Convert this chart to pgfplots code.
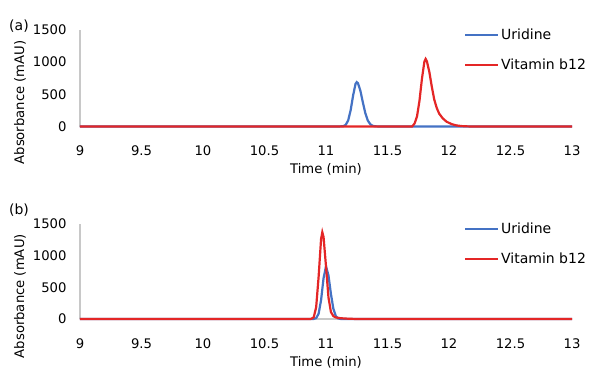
\documentclass[border=0pt]{standalone}
\usepackage{fontspec}
\setmainfont{DejaVu Sans}
\usepackage{pgfplots}
\pgfplotsset{compat=1.18}
\definecolor{ublue}{RGB}{68,114,196}
\definecolor{vred}{RGB}{228,38,38}
\definecolor{axgray}{RGB}{200,200,200}
\newcommand{\cf}{\fontsize{13.2}{16}\selectfont}
\newcommand{\lf}{\fontsize{14}{16}\selectfont}
\pgfplotsset{
  chrom/.style={
    scale only axis,
    width=492pt,
    xmin=9, xmax=13,
    ymin=0, ymax=1500,
    xtick={9,9.5,...,13},
    xticklabels={9,9.5,10,10.5,11,11.5,12,12.5,13},
    ytick={0,500,1000,1500},
    yticklabels={0,500,1000,1500},
    axis x line*=bottom,
    axis y line*=left,
    axis line style={axgray, line width=1.3pt},
    x axis line style={-},
    y axis line style={-},
    major tick length=0pt,
    tick style={draw=none},
    font=\cf,
    tick label style={font=\cf},
    label style={font=\cf},
    /pgf/number format/assume math mode=true,
    /pgf/number format/1000 sep={},
    xticklabel style={yshift=-16pt},
    yticklabel style={xshift=-10pt},
    xlabel={Time (min)},
    ylabel={Absorbance (mAU)},
    xlabel style={at={(rel axis cs:0.5,0)}, anchor=center, yshift=-43pt},
    clip=false,
    legend style={draw=none, fill=none, anchor=north west, inner sep=0pt,
      row sep=14pt, font=\lf,
      nodes={inner sep=2pt}},
    legend cell align=left,
    legend image code/.code={\draw[#1] (0pt,0pt) -- (33pt,0pt);},
  }
}
\begin{document}
\begin{tikzpicture}
\path[use as bounding box] (0,0) rectangle (600pt,384pt);
\node[font=\lf] at (19pt,358pt) {(a)};
\node[font=\lf] at (19pt,174pt) {(b)};
\begin{axis}[chrom, height=96.5pt, at={(80pt,257.5pt)}, anchor=south west,
  ylabel style={at={(rel axis cs:0,0.25)}, anchor=center, yshift=60pt},
  legend style={at={(rel axis cs:0.78,1.035)}}]
\addplot[ublue, line width=2.2pt] coordinates {
(9,0) (11.10,0) (11.14,5) (11.16,25) (11.18,93) (11.20,249) (11.22,478) (11.24,662) (11.25,690)
(11.26,673) (11.28,553) (11.30,372) (11.32,205) (11.34,93) (11.36,35) (11.38,11) (11.40,3) (11.44,0) (13,0)};
\addlegendentry{Uridine}
\addplot[vred, line width=2.2pt] coordinates {
(9,0) (11.70,0) (11.72,46) (11.74,158) (11.76,400) (11.78,742) (11.80,1010) (11.81,1050)
(11.82,1015) (11.84,850) (11.86,620) (11.88,420) (11.90,290) (11.92,200) (11.95,125) (11.98,75)
(12.02,38) (12.06,17) (12.10,7) (12.15,2) (12.2,0) (13,0)};
\addlegendentry{Vitamin b12}
\end{axis}
\begin{axis}[chrom, height=95pt, at={(80pt,65pt)}, anchor=south west,
  ylabel style={at={(rel axis cs:0,0.24)}, anchor=center, yshift=60pt},
  legend style={at={(rel axis cs:0.78,1.035)}}]
\addplot[ublue, line width=2.2pt] coordinates {
(9,0) (10.88,0) (10.90,1) (10.92,14) (10.94,83) (10.96,299) (10.98,643) (11.00,830)
(11.02,690) (11.04,398) (11.06,160) (11.08,44) (11.10,8) (11.12,1) (11.15,0) (13,0)};
\addlegendentry{Uridine}
\addplot[vred, line width=2.2pt] coordinates {
(9,0) (10.86,0) (10.88,2) (10.90,27) (10.92,185) (10.94,667) (10.96,1264) (10.97,1370)
(10.98,1296) (11.00,831) (11.02,342) (11.04,110) (11.06,45) (11.08,25) (11.12,12) (11.18,5) (11.25,0) (13,0)};
\addlegendentry{Vitamin b12}
\end{axis}
\end{tikzpicture}
\end{document}
